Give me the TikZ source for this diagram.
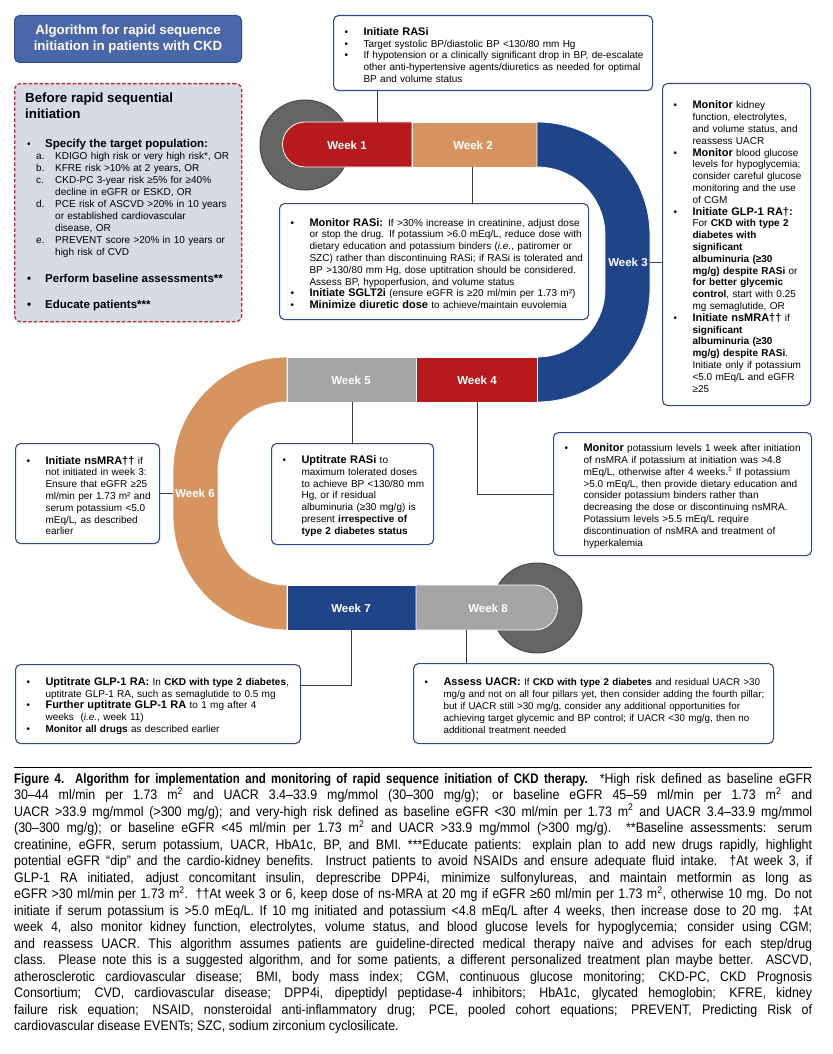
\documentclass[tikz,border=0pt]{standalone}
\usepackage{fontspec}
\setmainfont{Liberation Sans}
\newfontfamily\capfont[FakeStretch=0.90]{Liberation Sans}
\newfontfamily\capbfont[FakeStretch=0.83]{Liberation Sans}
\hyphenpenalty=10000
\exhyphenpenalty=10000
\definecolor{trkred}{HTML}{B71A1C}
\definecolor{trktan}{HTML}{D69461}
\definecolor{trknavy}{HTML}{1F4488}
\definecolor{trkgray}{HTML}{A5A5A5}
\definecolor{dgray}{HTML}{656565}
\definecolor{dgrayedge}{HTML}{484848}
\definecolor{boxblue}{HTML}{2E4B8A}
\definecolor{titleblue}{HTML}{4B67A8}
\definecolor{titleedge}{HTML}{2E4B8A}
\definecolor{beforefill}{HTML}{D6DBE6}
\definecolor{dashred}{HTML}{C0282E}
\definecolor{linkgray}{HTML}{3A3A3A}
\newcommand\bitem[1]{\par\noindent\hangindent=26pt\hangafter=1\hbox to 26pt{\hspace{7pt}\textbullet\hss}#1\par}
\newcommand\hd[1]{{\fontsize{11}{11.8}\selectfont\bfseries #1}}
\newcommand\litem[2]{\par\noindent\hspace{9pt}\hangindent=28pt\hangafter=1\hbox to 19pt{#1\hss}#2\par}
\newcommand\capline[1]{\hbox to 798pt{#1}}
\tikzset{
  seg/.style={draw=white, line width=0.8pt},
  wk/.style={font=\fontsize{11.5}{13}\selectfont\bfseries, text=white, inner sep=0},
  infobox/.style={draw=boxblue, line width=1.1pt, rounded corners=5pt, fill=white,
    anchor=north west, align=left, inner xsep=4pt, inner ysep=3pt,
    font=\fontsize{10}{11.8}\selectfont},
  link/.style={draw=linkgray, line width=0.8pt},
  dot/.style={fill=dgray, draw=dgrayedge, line width=1pt}
}
\begin{document}
\begin{tikzpicture}[x=1pt,y=-1pt]
\useasboundingbox (0,0) rectangle (832,1054);

% title and "before" panel
\node[draw=titleedge, fill=titleblue, rounded corners=5pt, minimum width=227pt,
  minimum height=47pt, anchor=north west, text=white, line width=1pt,
  font=\fontsize{13.3}{15.5}\selectfont\bfseries, align=center] (title) at (14,15)
  {Algorithm for rapid sequence\\initiation in patients with CKD};
\node[draw=dashred, dash pattern=on 3.5pt off 2pt, fill=beforefill, rounded corners=6pt,
  line width=1.3pt, minimum width=227pt, minimum height=238pt, anchor=north west] (before) at (14,83) {};
\node[anchor=north west, inner sep=0, align=left,
  font=\fontsize{13.3}{16}\selectfont\bfseries] (bhead) at (25,93) {Before rapid sequential\\initiation};
\node[anchor=north west, inner sep=0, text width=205pt, align=left,
  font=\fontsize{10}{12}\selectfont] (blist) at (27,139) {%
\noindent\hbox to 18pt{\textbullet\hss}{\fontsize{11.5}{12}\selectfont\bfseries Specify the target population:}\par
\litem{a.}{KDIGO high risk or very high risk*, OR}
\litem{b.}{KFRE risk >10\% at 2 years, OR}
\litem{c.}{CKD-PC 3-year risk ≥5\% for ≥40\%\newline decline in eGFR or ESKD, OR}
\litem{d.}{PCE risk of ASCVD >20\% in 10 years\newline or established cardiovascular\newline disease, OR}
\litem{e.}{PREVENT score >20\% in 10 years or\newline high risk of CVD}};
\node[anchor=west, inner sep=0, font=\fontsize{11.5}{13}\selectfont\bfseries] (bperf) at (27,278)
  {\hbox to 18pt{\textbullet\hss}Perform baseline assessments**};
\node[anchor=west, inner sep=0, font=\fontsize{11.5}{13}\selectfont\bfseries] (bedu) at (27,306)
  {\hbox to 18pt{\textbullet\hss}Educate patients***};

% track
\path[dot] (305,145) circle[radius=45];
\path[dot] (537,608) circle[radius=45];
\path[seg, fill=trkred] (305,122) arc[start angle=270, end angle=90, radius=22.5] -- (412,167) -- (412,122) -- cycle;
\path[seg, fill=trktan] (412,122) rectangle (537,167);
\path[seg, fill=trknavy] (537,122) arc[start angle=270, end angle=360, radius=113] -- (650,289)
  arc[start angle=0, end angle=90, radius=113] -- (537,357)
  arc[start angle=90, end angle=0, radius=68] -- (605,235)
  arc[start angle=0, end angle=-90, radius=68] -- cycle;
\path[seg, fill=trkred] (416,357) rectangle (537,402);
\path[seg, fill=trkgray] (287,357) rectangle (416,402);
\path[seg, fill=trktan] (287,357) arc[start angle=270, end angle=180, radius=114] -- (173,516)
  arc[start angle=180, end angle=90, radius=114] -- (287,585)
  arc[start angle=90, end angle=180, radius=69] -- (218,471)
  arc[start angle=180, end angle=270, radius=69] -- cycle;
\path[seg, fill=trknavy] (287,585) rectangle (416,630);
\path[seg, fill=trkgray] (416,585) -- (535,585) arc[start angle=270, end angle=450, radius=22.5] -- (416,630) -- cycle;

\node[wk] (w1) at (347,145) {Week 1};
\node[wk] (w2) at (473,145) {Week 2};
\node[wk] (w3) at (628,262) {Week 3};
\node[wk] (w4) at (477,380) {Week 4};
\node[wk] (w5) at (351,380) {Week 5};
\node[wk] (w6) at (195,493) {Week 6};
\node[wk] (w7) at (351,608) {Week 7};
\node[wk] (w8) at (488,608) {Week 8};

% info boxes
\node[infobox, text width=311pt, minimum height=75pt] (rasi) at (333,15) {%
\bitem{\hd{Initiate RASi}}
\bitem{Target systolic BP/diastolic BP <130/80 mm Hg}
\bitem{If hypotension or a clinically significant drop in BP, de-escalate\newline other anti-hypertensive agents/diuretics as needed for optimal\newline BP and volume status}};

\node[infobox, text width=301pt, minimum height=116pt] (mon) at (279,203) {%
\bitem{\hd{Monitor RASi:} If >30\% increase in creatinine, adjust dose\newline or stop the drug. If potassium >6.0 mEq/L, reduce dose with\newline dietary education and potassium binders (\textit{i.e.}, patiromer or\newline SZC) rather than discontinuing RASi; if RASi is tolerated and\newline BP >130/80 mm Hg, dose uptitration should be considered.\newline Assess BP, hypoperfusion, and volume status}
\bitem{\hd{Initiate SGLT2i} (ensure eGFR is ≥20 ml/min per 1.73 m²)}
\bitem{\hd{Minimize diuretic dose} to achieve/maintain euvolemia}};

\node[infobox, text width=140pt, minimum height=322pt] (wk3box) at (662,83) {%
\bitem{\hd{Monitor} kidney\newline function, electrolytes,\newline and volume status, and\newline reassess UACR}
\bitem{\hd{Monitor} blood glucose\newline levels for hypoglycemia;\newline consider careful glucose\newline monitoring and the use\newline of CGM}
\bitem{\hd{Initiate GLP-1 RA†:}\newline For \textbf{CKD with type 2\newline diabetes with\newline significant\newline albuminuria (≥30\newline mg/g) despite RASi} or\newline \textbf{for better glycemic\newline control}, start with 0.25\newline mg semaglutide, OR}
\bitem{\hd{Initiate nsMRA††} if\newline \textbf{significant\newline albuminuria (≥30\newline mg/g) despite RASi}.\newline Initiate only if potassium\newline <5.0 mEq/L and eGFR\newline ≥25}};

\node[infobox, text width=136pt, minimum height=100pt] (nsm) at (15,443) {%
\bitem{\hd{Initiate nsMRA††} if\newline not initiated in week 3:\newline Ensure that eGFR ≥25\newline ml/min per 1.73 m² and\newline serum potassium <5.0\newline mEq/L, as described\newline earlier}};

\node[infobox, text width=154pt, minimum height=101pt] (upr) at (271,443) {%
\bitem{\hd{Uptitrate RASi} to\newline maximum tolerated doses\newline to achieve BP <130/80 mm\newline Hg, or if residual\newline albuminuria (≥30 mg/g) is\newline present \textbf{irrespective of\newline type 2 diabetes status}}};

\node[infobox, text width=250pt, minimum height=123pt] (kpot) at (553,432) {%
\bitem{\hd{Monitor} potassium levels 1 week after initiation\newline of nsMRA if potassium at initiation was >4.8\newline mEq/L, otherwise after 4 weeks.\textsuperscript{‡} If potassium\newline >5.0 mEq/L, then provide dietary education and\newline consider potassium binders rather than\newline decreasing the dose or discontinuing nsMRA.\newline Potassium levels >5.5 mEq/L require\newline discontinuation of nsMRA and treatment of\newline hyperkalemia}};

\node[infobox, text width=277pt, minimum height=79pt] (glp) at (15,664) {%
\bitem{\hd{Uptitrate GLP-1 RA:} In \textbf{CKD with type 2 diabetes},\newline uptitrate GLP-1 RA, such as semaglutide to 0.5 mg}
\bitem{\hd{Further uptitrate GLP-1 RA} to 1 mg after 4\newline weeks\ \ (\textit{i.e.}, week 11)}
\bitem{\textbf{Monitor all drugs} as described earlier}};

\node[infobox, text width=352pt, minimum height=80pt, font=\fontsize{9.8}{11.8}\selectfont] (uacr) at (413,663) {%
\bitem{\hd{Assess UACR:} If \textbf{CKD with type 2 diabetes} and residual UACR >30\newline mg/g and not on all four pillars yet, then consider adding the fourth pillar;\newline but if UACR still >30 mg/g, consider any additional opportunities for\newline achieving target glycemic and BP control; if UACR <30 mg/g, then no\newline additional treatment needed}};

% connectors
\coordinate (p1) at (377,122);
\coordinate (p2) at (472,167);
\coordinate (p3) at (650,262);
\coordinate (p4) at (477,402);
\coordinate (p5) at (352,402);
\coordinate (p6) at (173,493);
\coordinate (p7) at (351,630);
\coordinate (p7b) at (300,685);
\coordinate (p8) at (466,630);
\draw[link] (p1) -- (p1 |- rasi.south);
\draw[link] (p2) -- (p2 |- mon.north);
\draw[link] (p3) -- (p3 -| wk3box.west);
\draw[link] (p4) |- (kpot.west);
\draw[link] (p5) -- (p5 |- upr.north);
\draw[link] (p6) -- (p6 -| nsm.east);
\draw[link] (p7) |- (p7b);
\draw[link] (p8) -- (p8 |- uacr.north);

% caption
\draw[black, line width=1pt] (14,767) -- (812,767);
\node[anchor=north west, inner sep=0] (caption) at (14,773) {\capfont\fontsize{13.8}{16.5}\selectfont
\vbox{\hsize=798pt \baselineskip=16.5pt
\capline{{\capbfont\bfseries Figure 4.\ \ Algorithm for implementation and monitoring of rapid sequence initiation of CKD therapy.} *High risk defined as baseline eGFR}
\capline{30–44 ml/min per 1.73 m\textsuperscript{2} and UACR 3.4–33.9 mg/mmol (30–300 mg/g); or baseline eGFR 45–59 ml/min per 1.73 m\textsuperscript{2} and}
\capline{UACR >33.9 mg/mmol (>300 mg/g); and very-high risk defined as baseline eGFR <30 ml/min per 1.73 m\textsuperscript{2} and UACR 3.4–33.9 mg/mmol}
\capline{(30–300 mg/g); or baseline eGFR <45 ml/min per 1.73 m\textsuperscript{2} and UACR >33.9 mg/mmol (>300 mg/g). **Baseline assessments: serum}
\capline{creatinine, eGFR, serum potassium, UACR, HbA1c, BP, and BMI. ***Educate patients: explain plan to add new drugs rapidly, highlight}
\capline{potential eGFR “dip” and the cardio-kidney benefits. Instruct patients to avoid NSAIDs and ensure adequate fluid intake. †At week 3, if}
\capline{GLP-1 RA initiated, adjust concomitant insulin, deprescribe DPP4i, minimize sulfonylureas, and maintain metformin as long as}
\capline{eGFR >30 ml/min per 1.73 m\textsuperscript{2}. ††At week 3 or 6, keep dose of ns-MRA at 20 mg if eGFR ≥60 ml/min per 1.73 m\textsuperscript{2}, otherwise 10 mg. Do not}
\capline{initiate if serum potassium is >5.0 mEq/L. If 10 mg initiated and potassium <4.8 mEq/L after 4 weeks, then increase dose to 20 mg. ‡At}
\capline{week 4, also monitor kidney function, electrolytes, volume status, and blood glucose levels for hypoglycemia; consider using CGM;}
\capline{and reassess UACR. This algorithm assumes patients are guideline-directed medical therapy naïve and advises for each step/drug}
\capline{class. Please note this is a suggested algorithm, and for some patients, a different personalized treatment plan maybe better. ASCVD,}
\capline{atherosclerotic cardiovascular disease; BMI, body mass index; CGM, continuous glucose monitoring; CKD-PC, CKD Prognosis}
\capline{Consortium; CVD, cardiovascular disease; DPP4i, dipeptidyl peptidase-4 inhibitors; HbA1c, glycated hemoglobin; KFRE, kidney}
\capline{failure risk equation; NSAID, nonsteroidal anti-inflammatory drug; PCE, pooled cohort equations; PREVENT, Predicting Risk of}
\hbox{cardiovascular disease EVENTs; SZC, sodium zirconium cyclosilicate.}}};
\end{tikzpicture}
\end{document}
